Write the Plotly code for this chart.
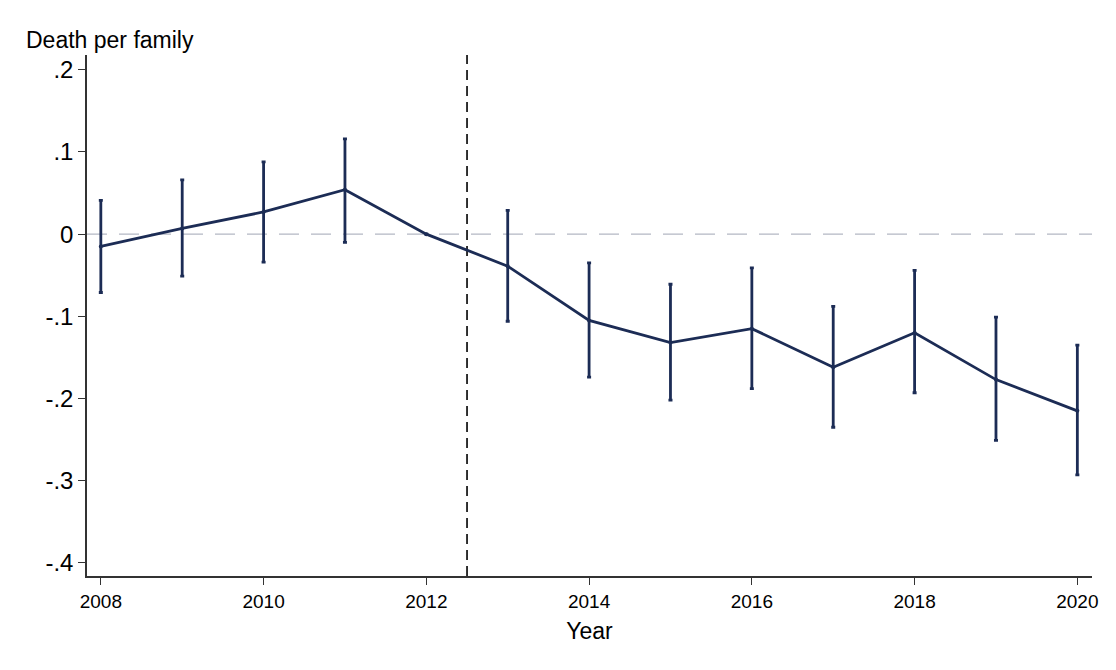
import plotly.graph_objects as go

years = [2008, 2009, 2010, 2011, 2012, 2013, 2014, 2015, 2016, 2017, 2018, 2019, 2020]
coef = [-0.015, 0.007, 0.027, 0.054, 0.0, -0.039, -0.105, -0.132, -0.115, -0.162, -0.120, -0.177, -0.215]
ci_hi = [0.041, 0.066, 0.088, 0.116, 0.0, 0.029, -0.035, -0.061, -0.041, -0.088, -0.044, -0.101, -0.135]
ci_lo = [-0.071, -0.051, -0.034, -0.010, 0.0, -0.106, -0.174, -0.202, -0.188, -0.235, -0.193, -0.251, -0.293]

x_ticks = [2008, 2010, 2012, 2014, 2016, 2018, 2020]
y_ticks = [0.2, 0.1, 0.0, -0.1, -0.2, -0.3, -0.4]
y_labels = [".2", ".1", "0", "-.1", "-.2", "-.3", "-.4"]
event_x = 2012.5

navy = "#1c2c55"

err_plus = [h - c for h, c in zip(ci_hi, coef)]
err_minus = [c - l for c, l in zip(coef, ci_lo)]

fig = go.Figure()
fig.add_hline(y=0, line=dict(color="#b4b8c4", width=1.3, dash="20px,12px"), layer="below")
fig.add_vline(x=event_x, line=dict(color="black", width=1.6, dash="10px,6px"), layer="below")

fig.add_trace(go.Scatter(
    x=years, y=coef, mode="lines+markers",
    line=dict(color=navy, width=2.8),
    marker=dict(color=navy, size=4),
    error_y=dict(type="data", symmetric=False, array=err_plus, arrayminus=err_minus,
                 color=navy, thickness=2.8, width=2),
    showlegend=False,
))

fam = "Liberation Sans, Arial, sans-serif"
fig.update_layout(
    width=1116, height=670,
    margin=dict(l=79, r=32, t=47, b=102),
    paper_bgcolor="white", plot_bgcolor="white",
    font=dict(family=fam, color="black"),
    xaxis=dict(range=[2007.83, 2020.18], tickvals=x_ticks, ticktext=[str(t) for t in x_ticks],
               showgrid=False, zeroline=False, showline=True, linecolor="#333333", linewidth=1.5,
               ticks="outside", ticklen=7, tickcolor="#333333", tickwidth=1.3,
               tickfont=dict(size=19, family=fam, color="black"),
               title=dict(text="Year", font=dict(size=23, family=fam, color="black"), standoff=12)),
    yaxis=dict(range=[-0.416, 0.218], tickvals=y_ticks, ticktext=y_labels,
               showgrid=False, zeroline=False, showline=True, linecolor="#333333", linewidth=1.5,
               ticks="outside", ticklen=7, tickcolor="#333333", tickwidth=1.3,
               tickfont=dict(size=24, family=fam, color="black")),
    annotations=[dict(text="Death per family", xref="paper", yref="paper", x=-0.0625, y=1.0,
                      xanchor="left", yanchor="bottom", showarrow=False, yshift=0,
                      font=dict(size=23, family=fam, color="black"))],
)

fig.write_html("out.html")
